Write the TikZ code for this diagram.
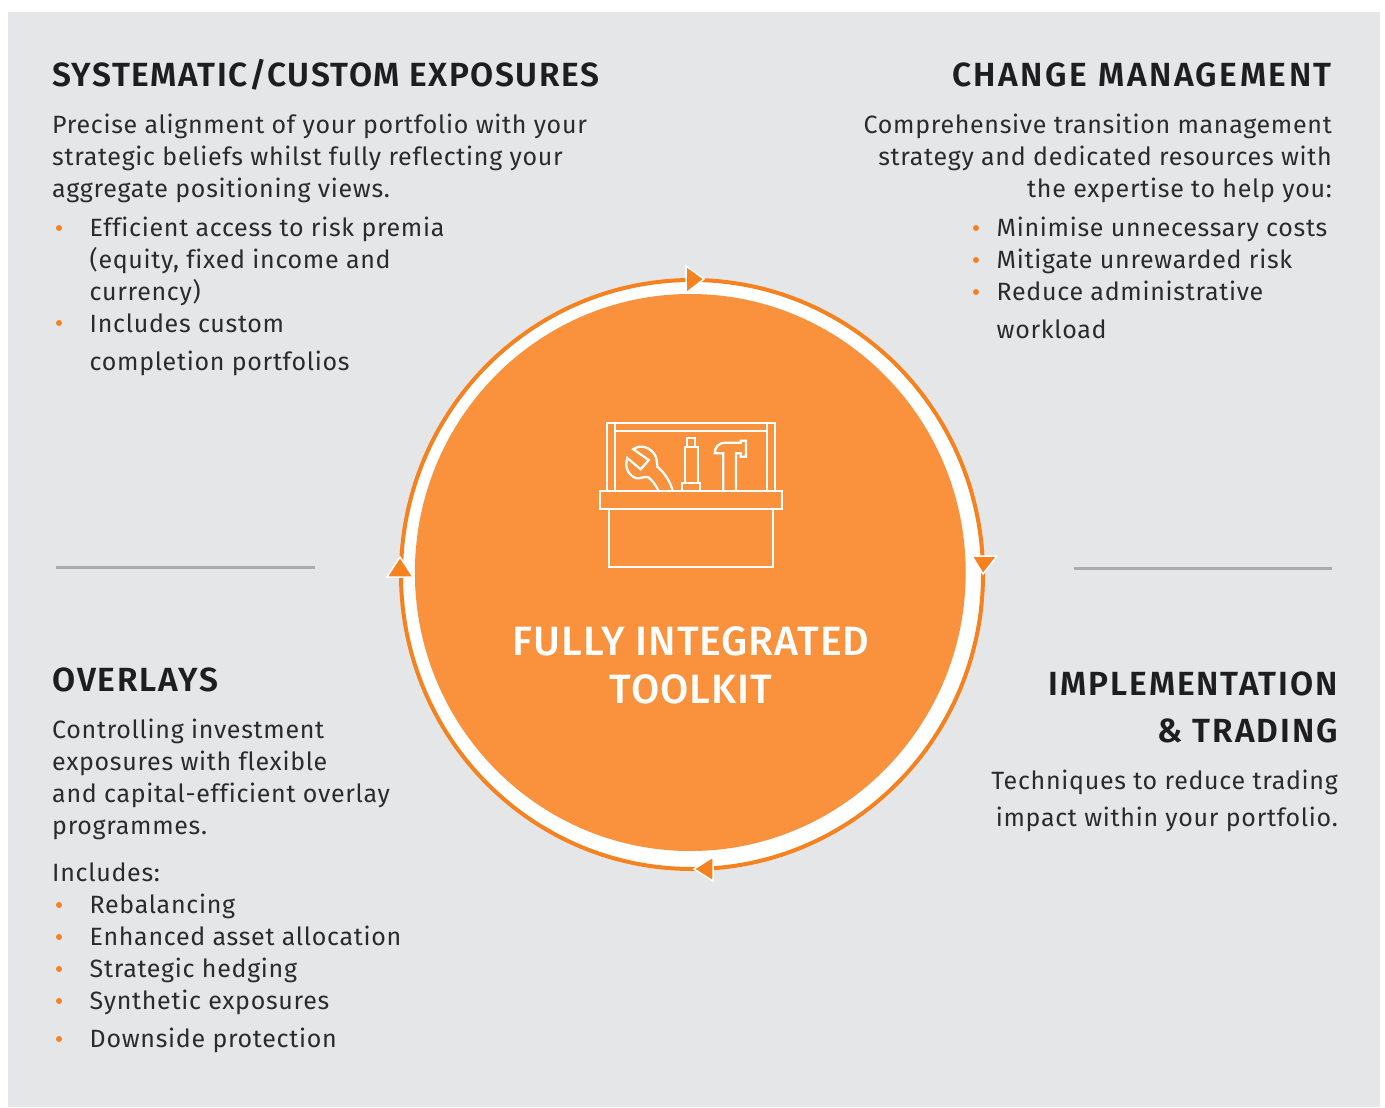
\documentclass[tikz,border=0pt]{standalone}
\usepackage{fontspec}
\setmainfont{Fira Sans}
\newfontfamily\bodyfont[LetterSpace=2.8,Ligatures=NoCommon]{Fira Sans}
\newfontfamily\headfont[LetterSpace=5.6,Ligatures=NoCommon]{Fira Sans SemiBold}
\newfontfamily\titlefont[LetterSpace=2.2,Ligatures=NoCommon]{Fira Sans Medium}
\definecolor{panelgrey}{HTML}{E5E6E8}
\definecolor{ruleline}{HTML}{ABACAE}
\definecolor{ringorange}{HTML}{F5821F}
\definecolor{discorange}{HTML}{F9913D}
\definecolor{inktext}{HTML}{2B2B2D}
\definecolor{inkhead}{HTML}{1E1E20}
\tikzset{
  bodytext/.style={inner sep=0pt,text=inktext,font=\fontsize{25}{32}\bodyfont\selectfont},
  headtext/.style={inner sep=0pt,text=inkhead,font=\fontsize{33.5}{47}\headfont\selectfont},
  toolline/.style={draw=white,line width=2.3pt,line join=miter},
  arrowtip/.style={fill=ringorange,draw=white,line width=1.5pt,line join=miter},
  bulletdot/.style={circle,fill=ringorange,inner sep=0pt,minimum size=6pt},
  ruleoff/.style={draw=ruleline,line width=3pt}
}
\begin{document}
\begin{tikzpicture}[x=1pt,y=-1pt]
  \useasboundingbox (0,0) rectangle (1385,1108);
  \fill[panelgrey] (8,12) rectangle (1380,1107);
  % rules
  \coordinate (ruleLa) at (56,567);
  \coordinate (ruleLb) at (315,567);
  \coordinate (ruleRa) at (1074,568);
  \coordinate (ruleRb) at (1332,568);
  \draw[ruleoff] (ruleLa) -- (ruleLb);
  \draw[ruleoff] (ruleRa) -- (ruleRb);
  % ring and disc
  \draw[fill=white,draw=ringorange,line width=4pt] (692,574.5) ellipse (291 and 294.5);
  \fill[discorange] (690.3,572.5) ellipse (275.4 and 278.5);
  % arrows on the ring
  \draw[arrowtip] (686,266) -- (704,279) -- (686,293) -- cycle;
  \draw[arrowtip] (972,556) -- (997,556) -- (983,574) -- cycle;
  \draw[arrowtip] (713,857) -- (694,869) -- (713,881) -- cycle;
  \draw[arrowtip] (387,577) -- (400,557) -- (413,577) -- cycle;
  % toolbox
  \draw[toolline] (609.3,508.7) rectangle (772.7,566.7);
  \draw[toolline] (600,491.3) rectangle (782,508.7);
  \draw[toolline] (607.3,491.3) rectangle (614.7,423.3);
  \draw[toolline] (767.3,491.3) rectangle (774.7,423.3);
  \draw[toolline] (614.7,423.3) -- (767.3,423.3);
  \draw[toolline] (614.7,431.3) -- (767.3,431.3);
  % wrench
  \draw[toolline] (658.7,491.3) .. controls (656,485) and (652,480) .. (648.3,477.3)
    .. controls (644,476) and (640,479) .. (636.7,478.3)
    .. controls (629,476) and (624,468) .. (627.3,458)
    -- (640.7,469.3) -- (648.7,460) -- (633.3,449.3)
    .. controls (640,444) and (650,447) .. (655,455)
    .. controls (657,459) and (657,463) .. (657.3,466.7)
    .. controls (665,473) and (671,483) .. (672.7,491.3);
  % jack
  \draw[toolline] (682,491.3) rectangle (700,482.7);
  \draw[toolline] (684.7,482.7) rectangle (698,447.3);
  \draw[toolline] (686.7,447.3) rectangle (695.3,438);
  % hammer
  \draw[toolline] (723.3,491.3) -- (723.3,453.3) -- (714.7,453.3)
    .. controls (714.7,447) and (719,442.7) .. (725,442.7)
    -- (740.7,442.7) -- (740.7,440.7) -- (746,440.7) -- (746,456.7)
    -- (740.7,456.7) -- (740.7,453.3) -- (736,453.3) -- (736,491.3);
  % title
  \node[inner sep=0pt,align=center,text=white,font=\fontsize{41}{48}\titlefont\selectfont] (toolkit) at (691,665)
    {FULLY INTEGRATED\\TOOLKIT};
  % top left
  \node[headtext,anchor=base west] (exposures) at (52,86.5) {\addfontfeature{LetterSpace=4.5}SYSTEMATIC/CUSTOM EXPOSURES};
  \node[bodytext,anchor=north west,align=left] (exposuretext) at (52,114)
    {Precise alignment of your portfolio with your\\strategic beliefs whilst fully reflecting your\\aggregate positioning views.};
  \node[bodytext,anchor=north west,align=left] (exposurelist) at (89.5,217)
    {Efficient access to risk premia\\(equity, fixed income and\\currency)\\Includes custom\\[6pt]completion portfolios};
  % top right
  \node[headtext,anchor=base east] (change) at (1332,86.5) {\addfontfeature{LetterSpace=7.5}CHANGE MANAGEMENT};
  \node[bodytext,anchor=north east,align=right] (changetext) at (1332,114)
    {Comprehensive transition management\\strategy and dedicated resources with\\the expertise to help you:};
  \node[bodytext,anchor=north west,align=left] (changelist) at (996.5,217)
    {Minimise unnecessary costs\\Mitigate unrewarded risk\\Reduce administrative\\[6pt]workload};
  % bottom left
  \node[headtext,anchor=base west] (overlays) at (52,691.5) {OVERLAYS};
  \node[bodytext,anchor=north west,align=left] (overlaytext) at (52,719)
    {Controlling investment\\exposures with flexible\\and capital-efficient overlay\\programmes.\\[15pt]Includes:};
  \node[bodytext,anchor=north west,align=left] (overlaylist) at (89.5,894)
    {Rebalancing\\Enhanced asset allocation\\Strategic hedging\\Synthetic exposures\\[6pt]Downside protection};
  % bottom right
  \node[headtext,anchor=north east,align=right] (trading) at (1338,672) {IMPLEMENTATION\\\&~TRADING};
  \node[bodytext,anchor=north east,align=right] (tradingtext) at (1338,770)
    {Techniques to reduce trading\\[5pt]impact within your portfolio.};
  % bullets
  \foreach \y [count=\i] in {228,323}
    \node[bulletdot] (dotA\i) at (59,\y) {};
  \foreach \y [count=\i] in {228,260,292}
    \node[bulletdot] (dotB\i) at (976,\y) {};
  \foreach \y [count=\i] in {905,937,969,1001,1039}
    \node[bulletdot] (dotC\i) at (59,\y) {};
\end{tikzpicture}
\end{document}
